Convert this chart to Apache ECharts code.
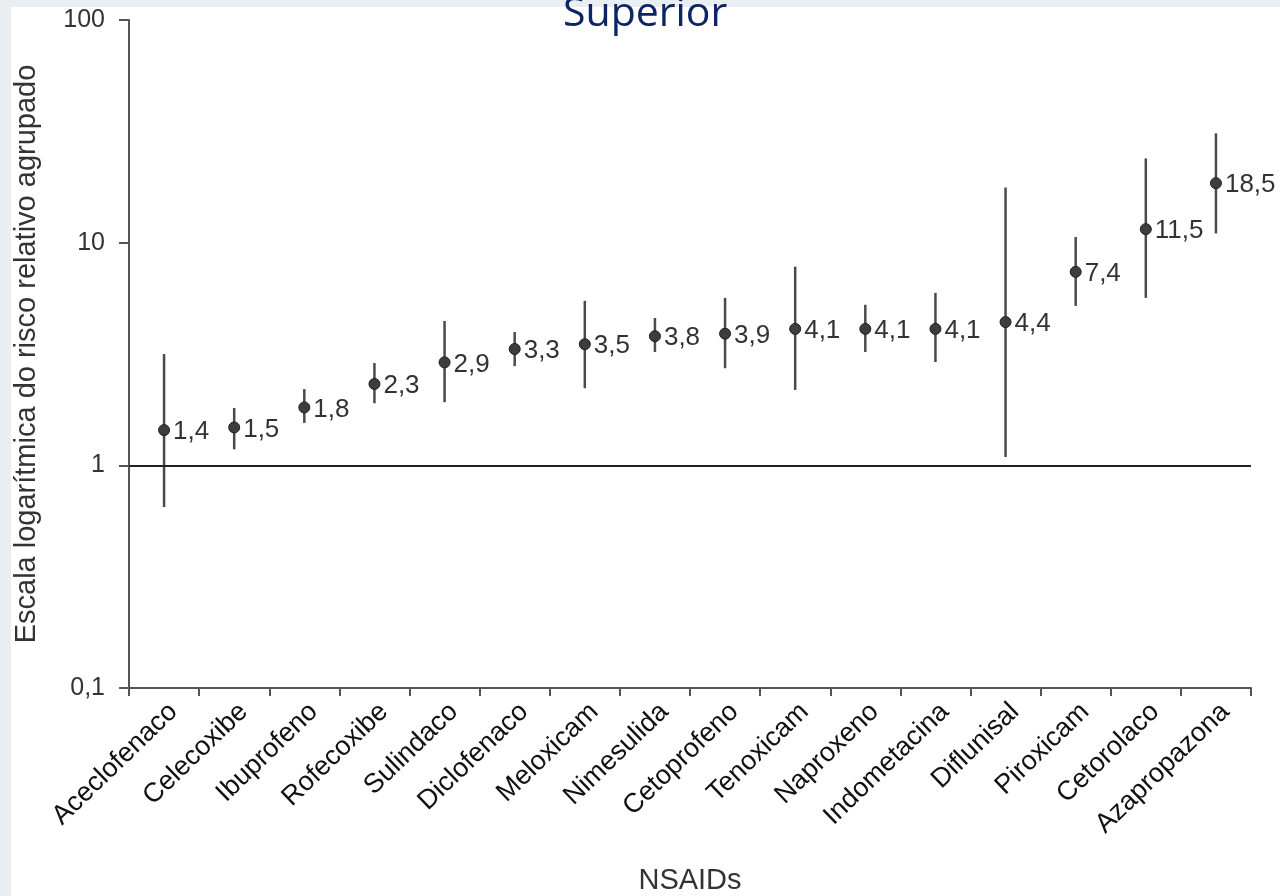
<!DOCTYPE html>
<html>
<head>
<meta charset="utf-8">
<script src="https://cdn.jsdelivr.net/npm/echarts@6/dist/echarts.min.js"></script>
<style>
    html, body { margin: 0; padding: 0; background: #e9eef3; }
    #paper { position: absolute; left: 11px; top: 7px; right: 0; bottom: 0; background: #fff; }
    #chart { position: absolute; left: 0; top: 0; width: 1280px; height: 896px; }
</style>
</head>
<body>
<div id="paper"></div>
<div id="chart"></div>
<script>
// categorias e valores
const drugs = ['Aceclofenaco', 'Celecoxibe', 'Ibuprofeno', 'Rofecoxibe', 'Sulindaco', 'Diclofenaco',
    'Meloxicam', 'Nimesulida', 'Cetoprofeno', 'Tenoxicam', 'Naproxeno', 'Indometacina',
    'Diflunisal', 'Piroxicam', 'Cetorolaco', 'Azapropazona'];
const rr = [1.44, 1.48, 1.82, 2.32, 2.9, 3.33, 3.5, 3.8, 3.9, 4.1, 4.1, 4.1, 4.4, 7.4, 11.5, 18.5];
const rrLabels = ['1,4', '1,5', '1,8', '2,3', '2,9', '3,3', '3,5', '3,8', '3,9', '4,1', '4,1', '4,1', '4,4', '7,4', '11,5', '18,5'];
const ciLow = [0.65, 1.18, 1.55, 1.9, 1.92, 2.79, 2.22, 3.23, 2.73, 2.18, 3.23, 2.91, 1.09, 5.2, 5.65, 11.0];
const ciHigh = [3.16, 1.81, 2.2, 2.88, 4.45, 3.97, 5.48, 4.59, 5.65, 7.8, 5.26, 5.95, 17.7, 10.6, 23.9, 31.0];

const FONT = 'Liberation Sans, Arial, sans-serif';
const TXT = '#333';

const chart = echarts.init(document.getElementById('chart'));

const option = {
    backgroundColor: 'transparent',
    animation: false,
    title: {
        text: 'Superior',
        left: 558,
        top: -11,
        textStyle: {
            color: '#0d2566',
            fontSize: 41,
            fontWeight: 'normal',
            fontFamily: 'Open Sans, Noto Sans, sans-serif',
        },
    },
    grid: {
        left: 129,
        right: 29,
        top: 20,
        bottom: 208,
        outerBoundsMode: 'none',
    },
    xAxis: {
        type: 'category',
        data: drugs,
        boundaryGap: true,
        name: 'NSAIDs',
        nameLocation: 'middle',
        nameGap: 178,
        nameTextStyle: { color: TXT, fontSize: 29, fontFamily: FONT },
        axisLine: { lineStyle: { color: '#555', width: 2 } },
        axisTick: { show: true, length: 8, lineStyle: { color: '#555', width: 2 } },
        axisLabel: {
            interval: 0,
            rotate: 44,
            margin: 10,
            verticalAlign: 'top',
            color: '#111',
            fontSize: 27,
            fontFamily: FONT,
        },
        splitLine: { show: false },
    },
    yAxis: {
        type: 'log',
        logBase: 10,
        min: 0.1,
        max: 100,
        name: 'Escala logarítmica do risco relativo agrupado',
        nameLocation: 'middle',
        nameGap: 88,
        nameTextStyle: { color: TXT, fontSize: 29, fontFamily: FONT },
        axisLine: { show: true, lineStyle: { color: '#555', width: 2 } },
        axisTick: { show: true, length: 10, lineStyle: { color: '#555', width: 2 } },
        axisLabel: {
            margin: 24,
            color: TXT,
            fontSize: 25,
            fontFamily: FONT,
            formatter: v => String(+v.toPrecision(3)).replace('.', ','),
        },
        splitLine: { show: false },
    },
    series: [
        {
            // intervalos de confiança
            type: 'custom',
            data: drugs.map((d, i) => [i, ciLow[i], ciHigh[i]]),
            encode: { x: 0, y: [1, 2] },
            renderItem: function (params, api) {
                const lo = api.coord([api.value(0), api.value(1)]);
                const hi = api.coord([api.value(0), api.value(2)]);
                return {
                    type: 'line',
                    shape: { x1: lo[0], y1: lo[1], x2: hi[0], y2: hi[1] },
                    style: { stroke: '#4a4a4a', lineWidth: 2.5 },
                };
            },
            z: 2,
            silent: true,
        },
        {
            type: 'scatter',
            data: rr.map((v, i) => ({ value: [i, v], label: { formatter: rrLabels[i] } })),
            symbol: 'circle',
            symbolSize: 11,
            itemStyle: { color: '#3d3d3d', borderColor: '#1e1e1e', borderWidth: 1, opacity: 1 },
            label: {
                show: true,
                position: 'right',
                distance: 3,
                offset: [0, 2],
                color: TXT,
                fontSize: 26,
                fontFamily: FONT,
            },
            markLine: {
                silent: true,
                symbol: 'none',
                label: { show: false },
                lineStyle: { color: '#222', width: 2, type: 'solid' },
                data: [{ yAxis: 1 }],
            },
            z: 3,
        },
    ],
};

chart.setOption(option);
</script>
</body>
</html>
